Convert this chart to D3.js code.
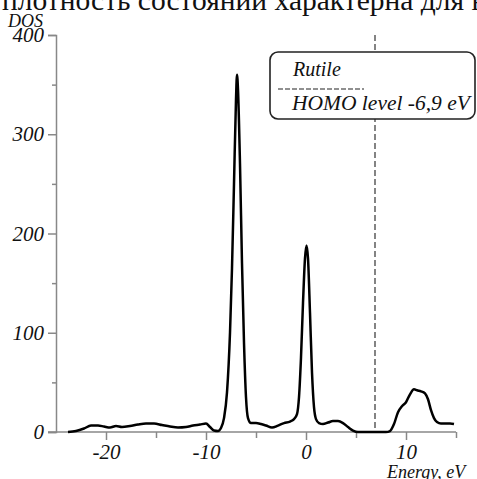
<!DOCTYPE html>
<html>
<head>
<meta charset="utf-8">
<script src="https://cdn.jsdelivr.net/npm/d3@7"></script>
<style>
  body { margin: 0; background: #fff; }
  svg { display: block; }
  .lbl { font-family: "Liberation Serif", "Times New Roman", serif; font-style: italic; fill: #111; }
</style>
</head>
<body>
<svg id="chart" width="477" height="479"></svg>
<script>
// энергия (эВ) и плотность состояний
var energy = [-23.8, -23.0, -22.2, -21.5, -20.8, -20.2, -19.6, -19.0, -18.4, -17.6,
  -16.8, -16.0, -15.2, -14.4, -13.6, -12.8, -12.0, -11.3, -10.6, -10.0,
  -9.6, -9.2, -8.8, -8.5, -8.2, -7.9, -7.6, -7.4, -7.2, -7.0,
  -6.9, -6.8, -6.6, -6.4, -6.2, -6.0, -5.8, -5.5, -5.0, -4.5,
  -4.0, -3.4, -2.8, -2.2, -1.6, -1.2, -0.9, -0.7, -0.5, -0.3,
  -0.1, 0.05, 0.2, 0.4, 0.6, 0.8, 1.0, 1.3, 1.7, 2.2,
  2.7, 3.2, 3.7, 4.2, 4.7, 5.2, 6.0, 7.0, 8.0, 8.4,
  8.8, 9.2, 9.6, 10.0, 10.4, 10.8, 11.1, 11.5, 11.9, 12.2,
  12.5, 12.8, 13.1, 13.5, 14.0, 14.4, 14.8];
var dos = [0, 1, 3.5, 6.5, 6.5, 5.5, 4.5, 6, 5, 6,
  7.5, 8.5, 8.5, 7, 5.5, 4.5, 5, 6.5, 7.5, 8.5,
  5, 1.5, 1, 4, 14, 40, 100, 165, 250, 335,
  360, 345, 270, 170, 90, 35, 14, 9, 9, 8,
  6.5, 4.5, 6.5, 9, 10.5, 13, 18, 35, 75, 130,
  175, 188, 175, 120, 60, 25, 13, 9, 8, 9.5,
  11, 11, 9, 5, 1.5, 0, 0, 0, 0, 1,
  8, 20, 26, 30, 38, 43, 42, 41, 39, 33,
  22, 14, 10, 8.5, 8.5, 8.5, 8];

var xTicks = [-20, -15, -10, -5, 0, 5, 10, 15];
var yTicks = [0, 50, 100, 150, 200, 250, 300, 350, 400];
var homoLevel = 6.9;

var svg = d3.select('#chart');

var x = d3.scaleLinear().domain([-25, 15]).range([56, 456]);
var y = d3.scaleLinear().domain([0, 400]).range([432, 35]);

// заголовок (обрезан сверху, как в оригинале)
svg.append('text')
  .attr('x', 2).attr('y', 10)
  .style('font-family', '"Liberation Serif", serif')
  .style('font-size', '29.5px')
  .attr('fill', '#111')
  .text('плотность состояний характерна для в');

// ось x
var xAxis = d3.axisBottom(x)
  .tickValues(xTicks)
  .tickSizeOuter(0)
  .tickSize(8)
  .tickPadding(4)
  .tickFormat(function(d) { return d % 10 === 0 ? d : ''; });

var gx = svg.append('g')
  .attr('transform', 'translate(0,' + y(0) + ')')
  .call(xAxis);

// ось y
var yAxis = d3.axisLeft(y)
  .tickValues(yTicks)
  .tickSizeOuter(0)
  .tickSize(8)
  .tickPadding(4)
  .tickFormat(function(d) { return d % 100 === 0 ? d : ''; });

var gy = svg.append('g')
  .attr('transform', 'translate(' + x(-25) + ',0)')
  .call(yAxis);

// короткие промежуточные штрихи
gy.selectAll('.tick line').attr('x2', function(d) { return d % 100 === 0 ? -8 : -4; });
gx.selectAll('.tick line').attr('y2', function(d) { return d % 10 === 0 ? 8 : 6; });

[gx, gy].forEach(function(g) {
  g.select('.domain').attr('stroke', '#888').attr('stroke-width', 1.5);
  g.selectAll('.tick line').attr('stroke', '#888').attr('stroke-width', 1.5);
  g.selectAll('.tick text')
    .attr('class', 'lbl')
    .style('font-size', '21px')
    .attr('fill', '#111');
});
// нулевой штрих y продлеваем влево до оси x
gx.select('.domain').attr('d', 'M' + (x(-25) - 8) + ',0H' + x(15));

// пунктир HOMO
svg.append('line')
  .attr('x1', x(homoLevel)).attr('x2', x(homoLevel))
  .attr('y1', y(400)).attr('y2', y(0))
  .attr('stroke', '#333')
  .attr('stroke-width', 1.2)
  .attr('stroke-dasharray', '6,3');

// кривая DOS
var line = d3.line()
  .x(function(d, i) { return x(energy[i]); })
  .y(function(d) { return y(d); })
  .curve(d3.curveMonotoneX);

svg.append('path')
  .datum(dos)
  .attr('d', line)
  .attr('fill', 'none')
  .attr('stroke', '#000')
  .attr('stroke-width', 2.5)
  .attr('stroke-linejoin', 'round');

// подписи осей
svg.append('text').attr('class', 'lbl')
  .attr('x', 8).attr('y', 27)
  .style('font-size', '18px')
  .text('DOS');

svg.append('text').attr('class', 'lbl')
  .attr('x', 387).attr('y', 478)
  .style('font-size', '18px')
  .text('Energy, eV');

// легенда
var leg = svg.append('g');
leg.append('rect')
  .attr('x', 270).attr('y', 52)
  .attr('width', 205).attr('height', 67)
  .attr('rx', 8).attr('ry', 8)
  .attr('fill', '#fff')
  .attr('stroke', '#222')
  .attr('stroke-width', 1.6);
leg.append('text').attr('class', 'lbl')
  .attr('x', 293).attr('y', 76)
  .style('font-size', '20px')
  .text('Rutile');
leg.append('line')
  .attr('x1', 278).attr('x2', 364)
  .attr('y1', 89).attr('y2', 89)
  .attr('stroke', '#222')
  .attr('stroke-width', 1.2)
  .attr('stroke-dasharray', '5,2');
leg.append('text').attr('class', 'lbl')
  .attr('x', 292).attr('y', 110)
  .style('font-size', '21.5px')
  .text('HOMO level -6,9 eV');
</script>
</body>
</html>
